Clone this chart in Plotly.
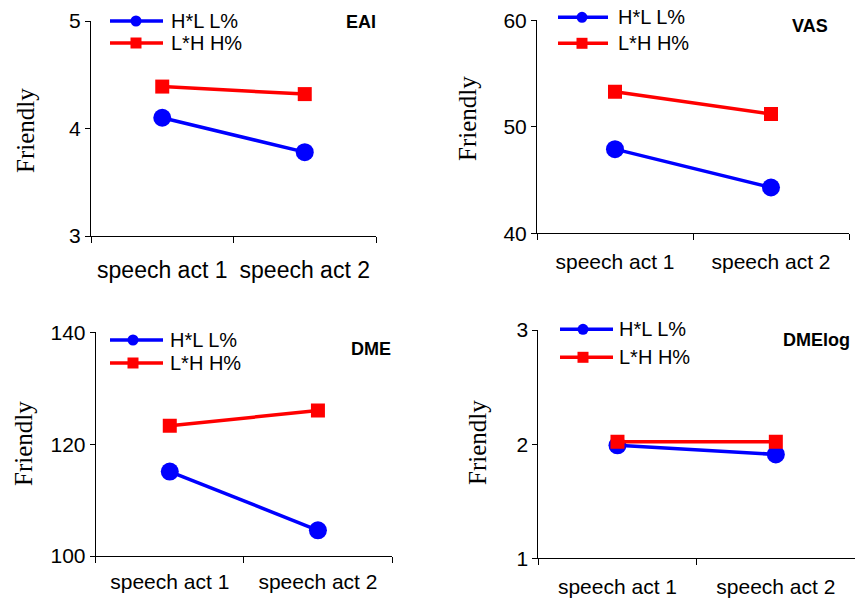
import plotly.graph_objects as go

W, H = 855, 599

categories = ["speech act 1", "speech act 2"]
series_names = ["H*L L%", "L*H H%"]
panel_titles = ["EAI", "VAS", "DME", "DMElog"]

hl_eai = [4.10, 3.78]
lh_eai = [4.39, 4.32]
hl_vas = [47.9, 44.3]
lh_vas = [53.3, 51.2]
hl_dme = [115.1, 104.6]
lh_dme = [123.3, 126.0]
hl_dmelog = [1.99, 1.91]
lh_dmelog = [2.02, 2.02]

y_ranges = [[3, 5], [40, 60], [100, 140], [1, 3]]
y_dticks = [1, 10, 20, 1]
y_title = "Friendly"

hl_values = [hl_eai, hl_vas, hl_dme, hl_dmelog]
lh_values = [lh_eai, lh_vas, lh_dme, lh_dmelog]

BLUE = "#0000FF"
RED = "#FF0000"
SANS = "Liberation Sans, Arial, sans-serif"
SERIF = "Liberation Serif, Times New Roman, serif"

# panel geometry in pixels: left, right, top, bottom
geom = [
    (91, 376, 21, 236),
    (537, 849, 20.3, 233.3),
    (95.7, 392, 332.3, 556),
    (538.3, 855, 330, 558.3),
]
# legend geometry: line x0, line x1, marker x, text x, row1 y, row2 y
leg = [
    (110, 163, 136, 169, 21, 43),
    (558, 608, 582, 616, 17.3, 43.3),
    (110, 163, 133, 168, 340, 363),
    (560, 613, 583, 617, 329.3, 357.3),
]
# title positions: right x, center y
titles_pos = [(378, 22.5), (830, 26), (393, 349), (852, 340)]
# y-axis title centers
ytitle_pos = [(25, 131), (468, 119), (23, 444), (477, 442)]
x_standoff = [13, 9, 7, 9]
x_font = [23, 21, 21, 21]


def fx(px):
    return px / W


def fy(py):
    return 1 - py / H


fig = go.Figure()
layout = dict(
    template="none",
    width=W, height=H,
    margin=dict(l=0, r=0, t=0, b=0, pad=0),
    paper_bgcolor="white", plot_bgcolor="white",
    showlegend=False,
)
shapes = []
annotations = []

for i in range(4):
    n = "" if i == 0 else str(i + 1)
    xa, ya = "x" + n, "y" + n
    l, r, t, b = geom[i]
    fig.add_trace(go.Scatter(
        x=categories, y=hl_values[i], name=series_names[0],
        mode="lines+markers", xaxis=xa, yaxis=ya,
        line=dict(color=BLUE, width=3.5),
        marker=dict(symbol="circle", size=18, color=BLUE),
    ))
    fig.add_trace(go.Scatter(
        x=categories, y=lh_values[i], name=series_names[1],
        mode="lines+markers", xaxis=xa, yaxis=ya,
        line=dict(color=RED, width=3.5),
        marker=dict(symbol="square", size=14, color=RED),
    ))
    layout["xaxis" + n] = dict(
        domain=[fx(l), min(fx(r), 1)], anchor=ya, automargin=False,
        type="category", range=[-0.5, 1.5], tickson="boundaries",
        showline=True, linecolor="black", linewidth=1,
        ticks="outside", ticklen=6, tickcolor="black", tickwidth=1,
        showgrid=False, zeroline=False, fixedrange=True,
        tickfont=dict(family=SANS, size=x_font[i], color="black"),
        ticklabelstandoff=x_standoff[i],
    )
    layout["yaxis" + n] = dict(
        domain=[fy(b), fy(t)], anchor=xa, automargin=False,
        range=y_ranges[i], dtick=y_dticks[i], tick0=y_ranges[i][0],
        showline=True, linecolor="black", linewidth=1,
        ticks="outside", ticklen=5, tickcolor="black", tickwidth=1,
        showgrid=False, zeroline=False, fixedrange=True,
        tickfont=dict(family=SANS, size=21, color="black"),
    )
    # panel title
    tx, ty = titles_pos[i]
    annotations.append(dict(
        text="<b>" + panel_titles[i] + "</b>", x=fx(tx), y=fy(ty),
        xref="paper", yref="paper", xanchor="right", yanchor="middle",
        showarrow=False, font=dict(family=SANS, size=18, color="black"),
    ))
    # y title
    yx, yy = ytitle_pos[i]
    annotations.append(dict(
        text=y_title, x=fx(yx), y=fy(yy), xref="paper", yref="paper",
        xanchor="center", yanchor="middle", textangle=-90, showarrow=False,
        font=dict(family=SERIF, size=25, color="black"),
    ))
    # legend
    lx0, lx1, mx, txx, r1, r2 = leg[i]
    for row_y, color, sym, name in [(r1, BLUE, "circle", series_names[0]),
                                    (r2, RED, "square", series_names[1])]:
        shapes.append(dict(type="line", xref="paper", yref="paper",
                           x0=fx(lx0), x1=fx(lx1), y0=fy(row_y), y1=fy(row_y),
                           line=dict(color=color, width=3.5)))
        s = 5.5
        shapes.append(dict(type="circle" if sym == "circle" else "rect",
                           xref="paper", yref="paper",
                           x0=fx(mx - s), x1=fx(mx + s),
                           y0=fy(row_y + s), y1=fy(row_y - s),
                           fillcolor=color, line=dict(color=color, width=0)))
        annotations.append(dict(
            text=name, x=fx(txx), y=fy(row_y), xref="paper", yref="paper",
            xanchor="left", yanchor="middle", showarrow=False,
            font=dict(family=SANS, size=20, color="black"),
        ))

layout["shapes"] = shapes
layout["annotations"] = annotations
fig.update_layout(**layout)
fig.write_html("out.html")
